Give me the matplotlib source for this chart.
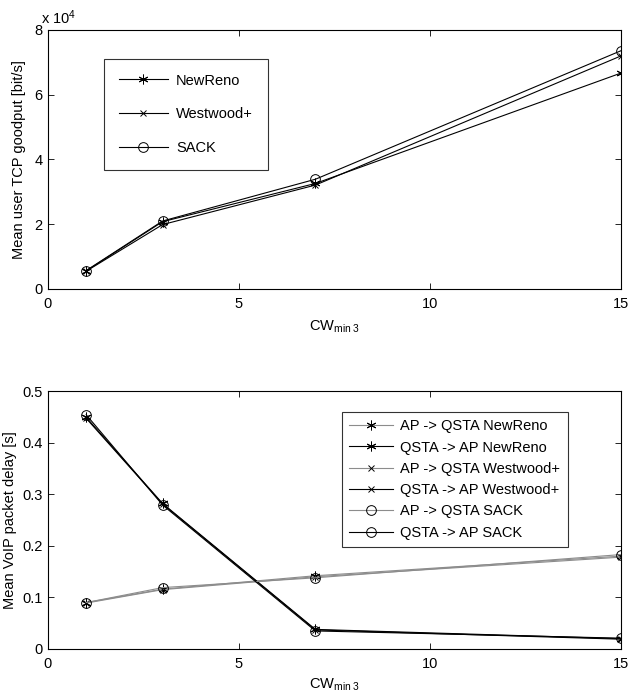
import matplotlib
matplotlib.use('Agg')
import matplotlib.pyplot as plt
import numpy as np

plt.rcParams['font.family'] = ['Liberation Sans', 'DejaVu Sans']
plt.rcParams['mathtext.fontset'] = 'custom'
plt.rcParams['mathtext.rm'] = 'Liberation Sans'
plt.rcParams['mathtext.it'] = 'Liberation Sans'
plt.rcParams['font.size'] = 10.5

# data
cw = [1, 3, 7, 15]
goodput_newreno = [5600, 20800, 32600, 66700]
goodput_westwood = [5500, 19900, 32100, 72000]
goodput_sack = [5700, 21000, 33900, 73600]

delay_ap_qsta_newreno = [0.090, 0.116, 0.142, 0.180]
delay_qsta_ap_newreno = [0.449, 0.282, 0.038, 0.020]
delay_ap_qsta_westwood = [0.089, 0.115, 0.140, 0.178]
delay_qsta_ap_westwood = [0.447, 0.281, 0.037, 0.019]
delay_ap_qsta_sack = [0.090, 0.119, 0.138, 0.183]
delay_qsta_ap_sack = [0.454, 0.279, 0.035, 0.021]

ASTER = (6, 2, 0)
XLAB = 'CW$_{\\mathrm{min\\ 3}}$'

fig = plt.figure(figsize=(6.29, 6.98), dpi=100)
W, H = 629.0, 698.0
ax1 = fig.add_axes([48 / W, 1 - 289 / H, (621 - 48) / W, (289 - 30) / H])
ax2 = fig.add_axes([48 / W, 1 - 649 / H, (621 - 48) / W, (649 - 391) / H])


def style(ax):
    ax.tick_params(direction='in', top=True, right=True, length=4, width=0.6, pad=4)
    ax.tick_params(axis='x', pad=6)
    for s in ax.spines.values():
        s.set_linewidth(0.8)
    ax.set_xlim(0, 15)
    ax.set_xticks([0, 5, 10, 15])


# top plot
ax1.plot(cw, np.array(goodput_newreno) / 1e4, color='k', lw=0.8, marker=ASTER, ms=7, mew=0.7, label='NewReno')
ax1.plot(cw, np.array(goodput_westwood) / 1e4, color='k', lw=0.8, marker='x', ms=4, mew=0.7, label='Westwood+')
ax1.plot(cw, np.array(goodput_sack) / 1e4, color='k', lw=0.8, marker='o', ms=7, mfc='none', mew=0.7, label='SACK')
style(ax1)
ax1.set_ylim(0, 8)
ax1.set_yticks([0, 2, 4, 6, 8])
ax1.set_ylabel('Mean user TCP goodput [bit/s]', labelpad=6)
ax1.set_xlabel(XLAB, labelpad=5)
ax1.text(-0.012, 1.01, 'x 10$^4$', transform=ax1.transAxes, ha='left', va='bottom')
leg1 = ax1.legend(loc='upper left', bbox_to_anchor=(56 / 573, (289 - 59) / 259), frameon=True,
                  fancybox=False, edgecolor='k', handlelength=3.4, labelspacing=1.35,
                  borderpad=1.0, handletextpad=0.55, borderaxespad=0)
leg1.get_frame().set_linewidth(0.8)

# bottom plot
gray = '#8c8c8c'
ax2.plot(cw, delay_ap_qsta_newreno, color=gray, lw=0.8, marker=ASTER, ms=7, mew=0.7, mec='k', label='AP -> QSTA NewReno')
ax2.plot(cw, delay_qsta_ap_newreno, color='k', lw=0.8, marker=ASTER, ms=7, mew=0.7, label='QSTA -> AP NewReno')
ax2.plot(cw, delay_ap_qsta_westwood, color=gray, lw=0.8, marker='x', ms=4, mew=0.7, mec='k', label='AP -> QSTA Westwood+')
ax2.plot(cw, delay_qsta_ap_westwood, color='k', lw=0.8, marker='x', ms=4, mew=0.7, label='QSTA -> AP Westwood+')
ax2.plot(cw, delay_ap_qsta_sack, color=gray, lw=0.8, marker='o', ms=7, mfc='none', mew=0.7, mec='k', label='AP -> QSTA SACK')
ax2.plot(cw, delay_qsta_ap_sack, color='k', lw=0.8, marker='o', ms=7, mfc='none', mew=0.7, label='QSTA -> AP SACK')
style(ax2)
ax2.set_ylim(0, 0.5)
ax2.set_yticks([0, 0.1, 0.2, 0.3, 0.4, 0.5])
ax2.set_yticklabels(['0', '0.1', '0.2', '0.3', '0.4', '0.5'])
ax2.set_ylabel('Mean VoIP packet delay [s]', labelpad=4)
ax2.set_xlabel(XLAB, labelpad=4)
leg2 = ax2.legend(loc='upper left', bbox_to_anchor=(294 / 573, (649 - 412) / 258), frameon=True,
                  fancybox=False, edgecolor='k', handlelength=3.0, labelspacing=0.5,
                  borderpad=0.5, handletextpad=0.5, borderaxespad=0)
leg2.get_frame().set_linewidth(0.8)

fig.savefig('out.png', dpi=100)
